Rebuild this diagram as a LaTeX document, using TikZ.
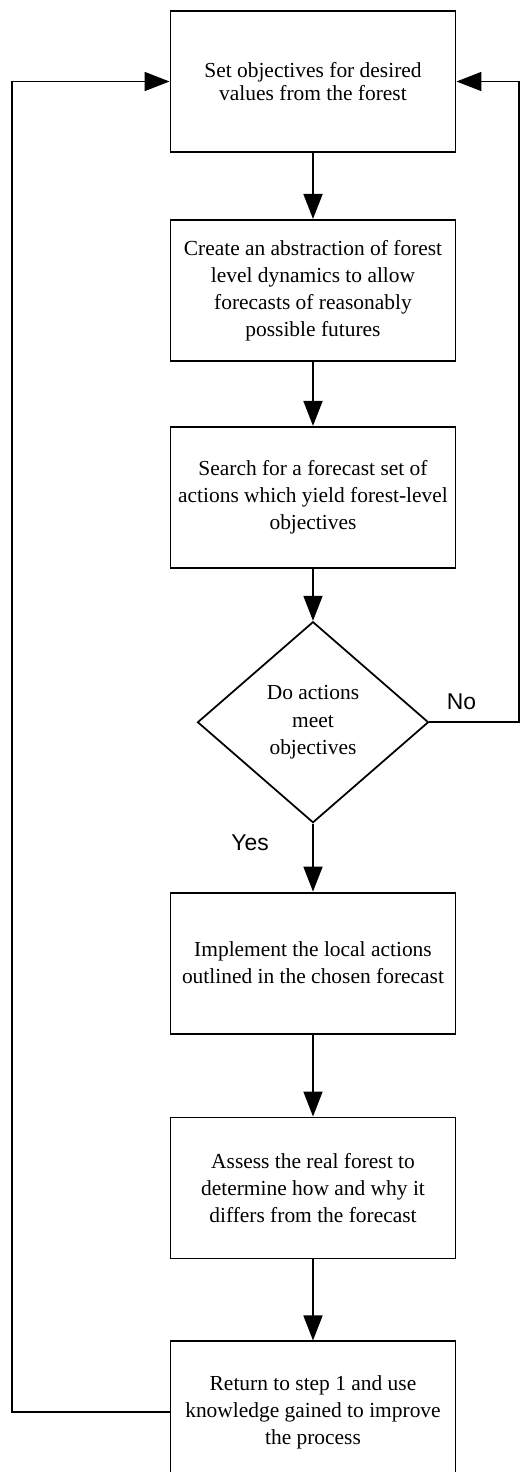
\documentclass[tikz,border=0pt]{standalone}
\usepackage{fontspec}
\setmainfont{Liberation Serif}
\newfontfamily\labelfont{Liberation Sans}
\usetikzlibrary{
    arrows.meta,
    positioning,
    shapes.geometric
}

\begin{document}
\begin{tikzpicture}[
        every node/.style={font=\fontsize{12.2pt}{15.4pt}\selectfont},
        stepbox/.style={
            rectangle,
            draw=black,
            line width=1.1pt,
            minimum width=57mm,
            minimum height=28.2mm,
            align=center
        },
        decision/.style={
            diamond,
            draw=black,
            line width=1pt,
            inner sep=0pt,
            minimum width=46.2mm,
            minimum height=40.2mm,
            align=center,
            font=\fontsize{12.2pt}{15.5pt}\selectfont
        },
        answer/.style={
            font=\labelfont\fontsize{13pt}{15pt}\selectfont
        },
        arrow/.style={
            -{Triangle[length=5mm,width=3.8mm]},
            line width=1pt,
            draw=black
        }
    ]

    \useasboundingbox (-62.6mm,-278.1mm) rectangle (41.2mm,16.3mm);

    \node[stepbox, font=\fontsize{12.2pt}{13pt}\selectfont] (objectives)
        {Set objectives for desired\\values from the forest};
    \node[stepbox, below=13.2mm of objectives] (abstraction)
        {Create an abstraction of forest\\level dynamics to allow\\forecasts of reasonably\\possible futures};
    \node[stepbox, below=12.8mm of abstraction] (search)
        {Search for a forecast set of\\actions which yield forest-level\\objectives};
    \node[decision, below=10.4mm of search] (meet)
        {Do actions\\meet\\objectives};
    \node[stepbox, below=13.6mm of meet] (implement)
        {Implement the local actions\\outlined in the chosen forecast};
    \node[stepbox, below=16.4mm of implement] (assess)
        {Assess the real forest to\\determine how and why it\\differs from the forecast};
    \node[stepbox, below=16.2mm of assess] (return)
        {Return to step 1 and use\\knowledge gained to improve\\the process};

    \coordinate[left=31.5mm of return.west] (loopleft);
    \coordinate[right=17.9mm of meet.east] (loopright);

    \draw[arrow] (objectives) -- (abstraction);
    \draw[arrow] (abstraction) -- (search);
    \draw[arrow] (search) -- (meet);
    \draw[arrow] (meet) -- node[answer, pos=0.28, left=7.5mm] {Yes} (implement);
    \draw[arrow] (implement) -- (assess);
    \draw[arrow] (assess) -- (return);

    \draw[arrow] (meet.east) -- node[answer, pos=0.36, above=1.2mm] {No} (loopright)
        |- (objectives.east);
    \draw[arrow] (return.west) -- (loopleft) |- (objectives.west);

\end{tikzpicture}
\end{document}
